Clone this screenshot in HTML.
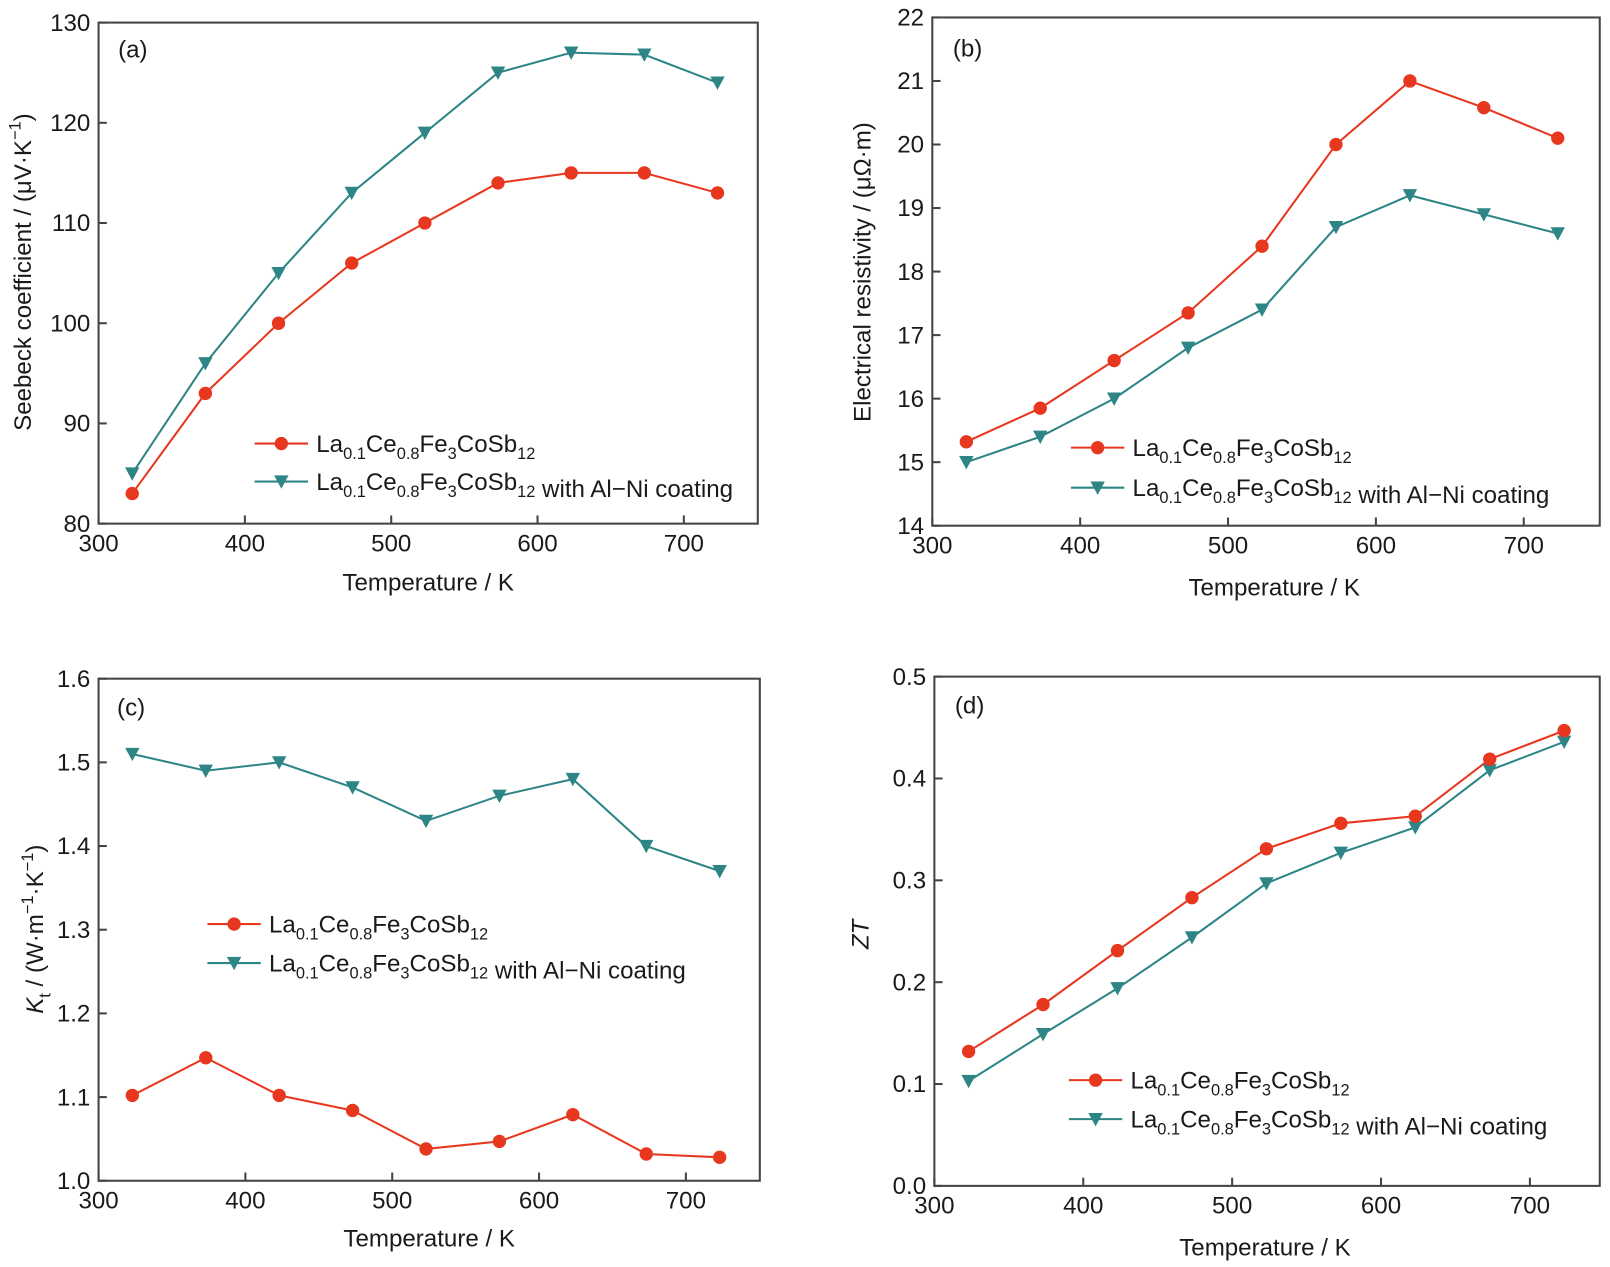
<!DOCTYPE html>
<html><head><meta charset="utf-8"><style>html,body{margin:0;padding:0;background:#fff}svg{display:block}text{font-family:"Liberation Sans",Arial,sans-serif;fill:#1a1a1a}</style></head>
<body>
<svg id="s" width="1610" height="1267" viewBox="0 0 1568 1234" preserveAspectRatio="none" xmlns="http://www.w3.org/2000/svg"></svg>
<script>
const R="#e8371f",T="#2d8585",FS=23.5,SS=16;
const xs=[323,373,423,473,523,573,623,673,723];
const P=[
{L:96,Rt:738,Tp:22,B:510,x0:300,x1:725,xt:666,y0:80,y1:130,yt:[80,90,100,110,120,130],yf:v=>v,
 r:[83,93,100,106,110,114,115,115,113],t:[85,96,105,113,119,125,127,126.8,124],
 lg:[248,432,469],lab:"(a)",lx:115,ly:56,xl:[417,575],yl:[30,265,'Seebeck coefficient / (μV·K<tspan dy="-10" font-size="16">−1</tspan><tspan dy="10">)</tspan>']},
{L:908,Rt:1558,Tp:17,B:512,x0:300,x1:751.4,xt:1484,y0:14,y1:22,yt:[14,15,16,17,18,19,20,21,22],yf:v=>v,
 r:[15.32,15.85,16.6,17.35,18.4,20,21,20.58,20.1],t:[15,15.4,16,16.8,17.4,18.7,19.2,18.9,18.6],
 lg:[1043,436,475],lab:"(b)",lx:928,ly:55,xl:[1241,580],yl:[848,265,'Electrical resistivity / (μΩ·m)']},
{L:96,Rt:740,Tp:661,B:1150,x0:300,x1:725,xt:668,y0:1.0,y1:1.6,yt:[1.0,1.1,1.2,1.3,1.4,1.5,1.6],yf:v=>v.toFixed(1),
 r:[1.102,1.147,1.102,1.084,1.038,1.047,1.079,1.032,1.028],t:[1.51,1.49,1.50,1.47,1.43,1.46,1.48,1.40,1.37],
 lg:[202,900,938],lab:"(c)",lx:114,ly:697,xl:[418,1214],yl:[42,905,'<tspan font-style="italic">K</tspan><tspan dy="7" font-size="16">t</tspan><tspan dy="-7"> / (W·m</tspan><tspan dy="-10" font-size="16">−1</tspan><tspan dy="10">·K</tspan><tspan dy="-10" font-size="16">−1</tspan><tspan dy="10">)</tspan>']},
{L:910,Rt:1558,Tp:659,B:1155,x0:300,x1:746.9,xt:1490,y0:0,y1:0.5,yt:[0,0.1,0.2,0.3,0.4,0.5],yf:v=>v.toFixed(1),
 r:[.132,.178,.231,.283,.331,.356,.363,.419,.447],t:[.103,.149,.194,.244,.297,.327,.352,.408,.436],
 lg:[1041,1052,1090],lab:"(d)",lx:930,ly:695,xl:[1232,1223],yl:[846,910,'<tspan font-style="italic">ZT</tspan>']}
];
let h="";
const name=`La<tspan dy="7" font-size="${SS}">0.1</tspan><tspan dy="-7">Ce</tspan><tspan dy="7" font-size="${SS}">0.8</tspan><tspan dy="-7">Fe</tspan><tspan dy="7" font-size="${SS}">3</tspan><tspan dy="-7">CoSb</tspan><tspan dy="7" font-size="${SS}">12</tspan><tspan dy="-7"></tspan>`;
function tri(x,y){return `<path d="M${x-7},${y-6}L${x+7},${y-6}L${x},${y+7}Z" fill="${T}"/>`}
for(const p of P){
 const sx=(p.xt-p.L)/400, X=v=>p.L+(v-300)*sx, Y=v=>p.B-(v-p.y0)/(p.y1-p.y0)*(p.B-p.Tp);
 h+=`<rect x="${p.L}" y="${p.Tp}" width="${p.Rt-p.L}" height="${p.B-p.Tp}" fill="none" stroke="#444" stroke-width="2"/>`;
 for(let k=300;k<=700;k+=100){const x=X(k);h+=`<line x1="${x}" y1="${p.B}" x2="${x}" y2="${p.B-8}" stroke="#444" stroke-width="2"/><text x="${x}" y="${p.B+27}" font-size="${FS}" text-anchor="middle">${k}</text>`;}
 for(const v of p.yt){const y=Y(v);h+=`<line x1="${p.L}" y1="${y}" x2="${p.L+8}" y2="${y}" stroke="#444" stroke-width="2"/><text x="${p.L-8}" y="${y+8}" font-size="${FS}" text-anchor="end">${p.yf(v)}</text>`;}
 const pr=p.r.map((v,i)=>X(xs[i])+","+Y(v)).join(" "), pt=p.t.map((v,i)=>X(xs[i])+","+Y(v)).join(" ");
 h+=`<polyline points="${pt}" fill="none" stroke="${T}" stroke-width="2"/><polyline points="${pr}" fill="none" stroke="${R}" stroke-width="2"/>`;
 p.t.forEach((v,i)=>h+=tri(X(xs[i]),Y(v)));
 p.r.forEach((v,i)=>h+=`<circle cx="${X(xs[i])}" cy="${Y(v)}" r="6.5" fill="${R}"/>`);
 const [lx,ly1,ly2]=p.lg;
 h+=`<line x1="${lx}" y1="${ly1}" x2="${lx+52}" y2="${ly1}" stroke="${R}" stroke-width="2"/><circle cx="${lx+26}" cy="${ly1}" r="6.5" fill="${R}"/>`;
 h+=`<line x1="${lx}" y1="${ly2}" x2="${lx+52}" y2="${ly2}" stroke="${T}" stroke-width="2"/>`+tri(lx+26,ly2);
 h+=`<text x="${lx+60}" y="${ly1+8}" font-size="${FS}">${name}</text><text x="${lx+60}" y="${ly2+8}" font-size="${FS}">${name} with Al−Ni coating</text>`;
 h+=`<text x="${p.lx}" y="${p.ly}" font-size="${FS}">${p.lab}</text>`;
 h+=`<text x="${p.xl[0]}" y="${p.xl[1]}" font-size="${FS}" text-anchor="middle">Temperature / K</text>`;
 h+=`<text transform="translate(${p.yl[0]},${p.yl[1]}) rotate(-90)" font-size="${FS}" text-anchor="middle">${p.yl[2]}</text>`;
}
document.getElementById("s").innerHTML=h;
</script>
</body></html>
